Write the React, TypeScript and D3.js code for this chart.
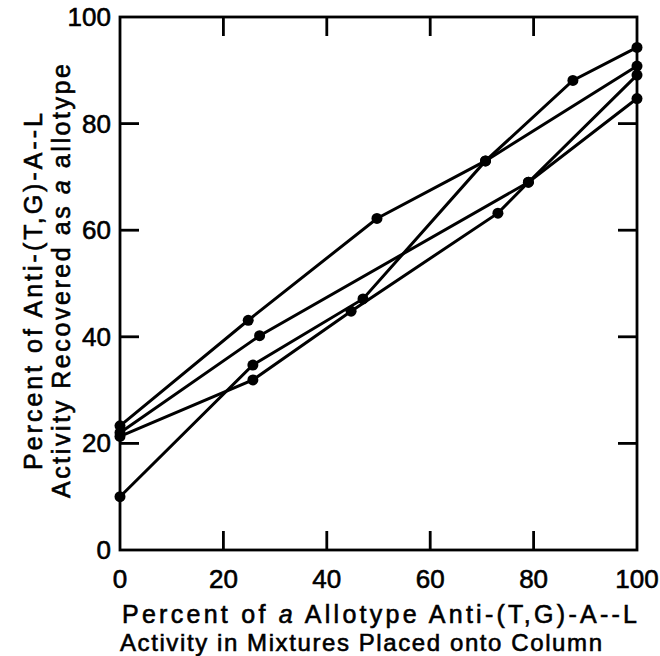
import React from 'react';
import * as d3 from 'd3';

const W = 660;
const H = 656;

const xTickValues = [0, 20, 40, 60, 80, 100];
const yTickValues = [0, 20, 40, 60, 80, 100];
const innerTickValues = [20, 40, 60, 80];

const series1X = [0, 24.8, 49.7, 70.7, 100];
const series1Y = [23.3, 43.1, 62.2, 73.0, 90.8];
const series2X = [0, 25.7, 47.0, 70.7, 87.6, 100];
const series2Y = [10.0, 34.7, 47.1, 73.0, 88.1, 94.3];
const series3X = [0, 27.0, 79.0, 100];
const series3Y = [22.0, 40.2, 69.0, 84.7];
const series4X = [0, 25.7, 44.7, 73.1, 79.0, 100];
const series4Y = [21.3, 31.9, 44.8, 63.2, 69.0, 89.1];

const seriesList = [
  { xs: series1X, ys: series1Y },
  { xs: series2X, ys: series2Y },
  { xs: series3X, ys: series3Y },
  { xs: series4X, ys: series4Y },
];

const FONT = '"Liberation Sans", Arial, sans-serif';

export default function App() {
  const x = d3.scaleLinear().domain([0, 100]).range([120, 637]);
  const y = d3.scaleLinear().domain([0, 100]).range([550, 17]);
  const line = d3
    .line<[number, number]>()
    .x((d) => x(d[0]))
    .y((d) => y(d[1]));
  const tickLen = 19;
  const stroke = '#000';
  const textStroke = { stroke: '#000', strokeWidth: 0.6 };

  return (
    <svg width={W} height={H} style={{ position: 'absolute', left: 0, top: 0, background: '#fff' }}>
      <rect x={0} y={0} width={W} height={H} fill="#fff" />
      {/* frame */}
      <rect
        x={x(0)}
        y={y(100)}
        width={x(100) - x(0)}
        height={y(0) - y(100)}
        fill="none"
        stroke={stroke}
        strokeWidth={2.8}
      />
      {/* inward ticks */}
      {innerTickValues.map((t) => (
        <g key={'t' + t} stroke={stroke} strokeWidth={2.8}>
          <line x1={x(t)} x2={x(t)} y1={y(0)} y2={y(0) - tickLen} />
          <line x1={x(t)} x2={x(t)} y1={y(100)} y2={y(100) + tickLen} />
          <line x1={x(0)} x2={x(0) + tickLen} y1={y(t)} y2={y(t)} />
          <line x1={x(100)} x2={x(100) - tickLen} y1={y(t)} y2={y(t)} />
        </g>
      ))}
      {/* tick labels */}
      {xTickValues.map((t) => (
        <text
          key={'xl' + t}
          x={x(t)}
          y={588}
          textAnchor="middle"
          fontFamily={FONT}
          fontSize={26}
          fill="#000"
          {...textStroke}
        >
          {t}
        </text>
      ))}
      {yTickValues.map((t) => (
        <text
          key={'yl' + t}
          x={111}
          y={y(t) + 9}
          textAnchor="end"
          fontFamily={FONT}
          fontSize={26}
          fill="#000"
          {...textStroke}
        >
          {t}
        </text>
      ))}
      {/* data */}
      {seriesList.map((s, i) => {
        const pts: [number, number][] = s.xs.map((v, j) => [v, s.ys[j]]);
        return (
          <g key={'s' + i}>
            <path d={line(pts) || ''} fill="none" stroke={stroke} strokeWidth={3} />
            {pts.map((p, j) => (
              <circle key={j} cx={x(p[0])} cy={y(p[1])} r={5.5} fill={stroke} />
            ))}
          </g>
        );
      })}
      {/* x axis title */}
      <text x={122} y={623} fontFamily={FONT} fontSize={25} fill="#000" textLength={515} lengthAdjust="spacing" {...textStroke}>
        Percent of <tspan fontStyle="italic">a</tspan> Allotype Anti-(T,G)-A--L
      </text>
      <text x={120} y={651} fontFamily={FONT} fontSize={24} fill="#000" textLength={482} lengthAdjust="spacing" {...textStroke}>
        Activity in Mixtures Placed onto Column
      </text>
      {/* y axis title */}
      <text
        transform="translate(42,470) rotate(-90)"
        fontFamily={FONT}
        fontSize={25}
        fill="#000"
        textLength={357}
        lengthAdjust="spacing"
        {...textStroke}
      >
        Percent of Anti-(T,G)-A--L
      </text>
      <text
        transform="translate(70,498) rotate(-90)"
        fontFamily={FONT}
        fontSize={25}
        fill="#000"
        textLength={434}
        lengthAdjust="spacing"
        {...textStroke}
      >
        Activity Recovered as <tspan fontStyle="italic">a</tspan> allotype
      </text>
    </svg>
  );
}
